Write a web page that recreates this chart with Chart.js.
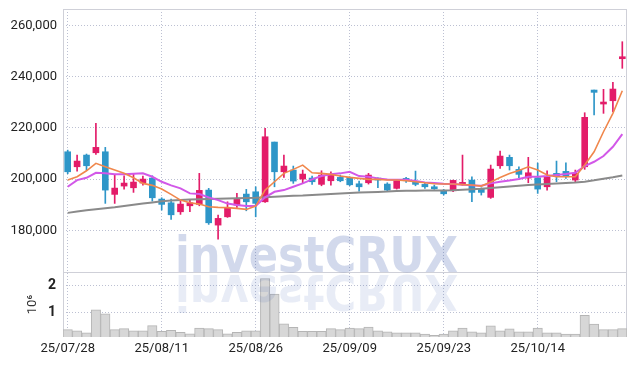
<!DOCTYPE html>
<html>
<head>
<meta charset="utf-8">
<script src="https://cdn.jsdelivr.net/npm/chart.js@4/dist/chart.umd.min.js"></script>
<style>
  html, body { margin: 0; padding: 0; background: #fff; }
  #wrap { width: 637px; height: 366px; }
</style>
</head>
<body>
<div id="wrap"><canvas id="stockChart" width="637" height="366"></canvas></div>
<script>
// daily candles, 25/07/28 .. 25/10/27
const dates = [
    '25/07/28','25/07/29','25/07/30','25/07/31','25/08/01','25/08/04','25/08/05','25/08/06','25/08/07','25/08/08',
    '25/08/11','25/08/12','25/08/13','25/08/14','25/08/18','25/08/19','25/08/20','25/08/21','25/08/22','25/08/25',
    '25/08/26','25/08/27','25/08/28','25/08/29','25/09/01','25/09/02','25/09/03','25/09/04','25/09/05','25/09/08',
    '25/09/09','25/09/10','25/09/11','25/09/12','25/09/15','25/09/16','25/09/17','25/09/18','25/09/19','25/09/22',
    '25/09/23','25/09/24','25/09/25','25/09/26','25/09/29','25/09/30','25/10/01','25/10/02','25/10/10','25/10/13',
    '25/10/14','25/10/15','25/10/16','25/10/17','25/10/20','25/10/21','25/10/22','25/10/23','25/10/24','25/10/27'
];
const shownDates = ['25/07/28', '25/08/11', '25/08/26', '25/09/09', '25/09/23', '25/10/14'];

const opens = [
    210660, 204800, 209370, 210270, 210660, 194020, 197270, 196600, 198440, 200390,
    192190, 190740, 187230, 189570, 190120, 195700, 182030, 185270, 189840, 194140,
    195040, 191130, 214450, 202850, 203520, 200000, 200390, 197930, 199340, 200660,
    200660, 198160, 198560, 200270, 198050, 196370, 200270, 198830, 197930, 196990,
    195590, 195430, 197930, 199610, 196090, 192850, 205200, 208480, 203780, 200390,
    200510, 196990, 202230, 203010, 199610, 204800, 234760, 229300, 230580, 246990
];
const highs = [
    211300, 209370, 209770, 221760, 212380, 201560, 201290, 201840, 201170, 201290,
    192700, 192190, 191400, 191800, 202230, 196370, 185940, 191130, 194410, 195980,
    196990, 219800, 214450, 209370, 205080, 203520, 201170, 203240, 202850, 201560,
    200900, 199220, 202230, 200510, 198560, 199610, 200660, 203120, 198560, 197660,
    195980, 199610, 209370, 200900, 196600, 205470, 210940, 209370, 204800, 208480,
    206250, 203240, 207030, 206370, 203520, 225900, 234760, 235040, 237770, 253630
];
const lows = [
    202070, 203120, 203500, 209650, 190510, 190500, 196090, 194800, 197660, 191400,
    187900, 184260, 186210, 187230, 189570, 182300, 176560, 185040, 188940, 187620,
    185270, 190900, 196990, 200660, 198320, 198560, 197930, 197380, 197660, 198950,
    197380, 195310, 198050, 196600, 195430, 196090, 198710, 197380, 196370, 195980,
    193750, 195040, 197540, 191130, 193750, 192460, 204180, 203520, 200510, 198560,
    194410, 195700, 198950, 200270, 198950, 203790, 225000, 225660, 226290, 243240
];
const closes = [
    202850, 207030, 205200, 212380, 195700, 196480, 198440, 198830, 200000, 192700,
    190120, 186050, 190230, 190740, 195590, 182930, 184650, 188940, 192070, 191130,
    190510, 216520, 202850, 205080, 199220, 201950, 198950, 201560, 201840, 199340,
    197770, 196990, 201560, 199610, 195700, 199340, 199340, 197930, 196990, 196210,
    194260, 199490, 198710, 194800, 194800, 203900, 208980, 205200, 201840, 202460,
    196090, 200900, 201290, 201290, 202230, 224100, 233860, 229800, 235150, 247650
];

// moving averages as drawn
const ma5 = [
    199610, 200900, 203240, 206130, 204800, 203520, 202230, 200510, 198320, 197540,
    196090, 194020, 191800, 190740, 190230, 189180, 188940, 188870, 188560, 188160,
    189450, 195700, 198950, 202230, 203790, 205470, 202460, 202230, 201840, 201170,
    200660, 200270, 199880, 199880, 199610, 199610, 199340, 198950, 198560, 198160,
    198050, 198050, 197850, 197660, 197270, 198830, 200590, 202150, 203320, 204800,
    203520, 201560, 200900, 200900, 200900, 205470, 210660, 218480, 225660, 234490
];
const ma10 = [
    196990, 199610, 200510, 202460, 202230, 201840, 201840, 202070, 202230, 200900,
    198950, 197540, 196370, 194410, 194140, 192850, 191800, 190430, 189840, 189450,
    189450, 192850, 195040, 195700, 196990, 198320, 199880, 201170, 201840, 202230,
    202850, 201170, 200900, 200270, 199880, 199730, 199730, 199220, 198710, 198440,
    198160, 198050, 197770, 197540, 197380, 198320, 198950, 199450, 200000, 200900,
    200900, 201170, 201560, 201950, 202460, 205080, 206760, 208980, 212620, 217580
];
const ma60 = [
    186800, 187300, 187800, 188200, 188600, 189000, 189500, 190000, 190500, 190900,
    191300, 191600, 191800, 192000, 192100, 192200, 192300, 192400, 192500, 192600,
    192700, 192900, 193100, 193300, 193500, 193600, 193800, 194000, 194200, 194400,
    194600, 194800, 194900, 195000, 195100, 195300, 195400, 195400, 195500, 195500,
    195500, 195600, 195800, 196000, 196200, 196500, 196800, 197100, 197400, 197700,
    197900, 198100, 198300, 198500, 198700, 199000, 199500, 200100, 200700, 201400
];

const volumes = [
    350000, 310000, 230000, 1080000, 940000, 350000, 390000, 310000, 310000, 500000,
    290000, 330000, 250000, 200000, 410000, 390000, 350000, 200000, 250000, 310000,
    310000, 2240000, 1670000, 570000, 440000, 290000, 290000, 290000, 390000, 350000,
    410000, 390000, 450000, 310000, 270000, 230000, 230000, 230000, 190000, 140000,
    190000, 310000, 410000, 270000, 230000, 490000, 310000, 380000, 270000, 270000,
    410000, 230000, 230000, 190000, 190000, 880000, 560000, 350000, 350000, 390000
];

const priceTicks = [180000, 200000, 220000, 240000, 260000];
const volTicks = [1000000, 2000000];

const UP = '#e31c69';
const DOWN = '#2e96c8';
const GRID = '#bcc0d2';
const tickFont = { family: 'Roboto', size: 13 };

const candleColors = closes.map((c, i) => c >= opens[i] ? UP : DOWN);

// y axes: fixed width, no extra padding for the edge labels
function fitY(s) {
    s.width = 63;
    s.paddingTop = 0;
    s.paddingBottom = 0;
}

// frame round both panels + separator line
const framePlugin = {
    id: 'frame',
    beforeDatasetsDraw(chart) {
        const { ctx, chartArea: a } = chart;
        const sep = Math.round(chart.scales.yv.top) + 0.5;
        ctx.save();
        ctx.strokeStyle = '#cfd0d8';
        ctx.lineWidth = 1;
        ctx.strokeRect(Math.round(a.left) + 0.5, Math.round(a.top) + 0.5, Math.round(a.width) - 1, Math.round(a.height) - 1);
        ctx.beginPath();
        ctx.moveTo(a.left, sep);
        ctx.lineTo(a.right, sep);
        ctx.stroke();
        ctx.restore();
    }
};

// investCRUX watermark with its mirror image
const watermarkPlugin = {
    id: 'watermark',
    afterDatasetsDraw(chart) {
        const ctx = chart.ctx;
        const text = 'investCRUX';
        const base = chart.scales.yv.top;
        ctx.save();
        ctx.font = 'bold 50px "DejaVu Sans"';
        const w = ctx.measureText(text).width;
        ctx.translate(175, base);
        ctx.scale(283 / w, 1);
        ctx.textBaseline = 'alphabetic';
        ctx.fillStyle = 'rgba(50, 80, 170, 0.22)';
        ctx.fillText(text, 0, 0);
        ctx.scale(1, -1);
        ctx.fillStyle = 'rgba(50, 80, 170, 0.11)';
        ctx.fillText(text, 0, -3);
        ctx.restore();
    }
};

const ctx = document.getElementById('stockChart').getContext('2d');
new Chart(ctx, {
    type: 'bar',
    data: {
        labels: dates,
        datasets: [
            { type: 'line', label: 'MA5', data: ma5, yAxisID: 'y', borderColor: '#f0874c', borderWidth: 1.6, pointRadius: 0, tension: 0, order: 1 },
            { type: 'line', label: 'MA10', data: ma10, yAxisID: 'y', borderColor: '#d258e8', borderWidth: 2, pointRadius: 0, tension: 0, order: 2 },
            { type: 'line', label: 'MA60', data: ma60, yAxisID: 'y', borderColor: '#8a8a8a', borderWidth: 2, pointRadius: 0, tension: 0, order: 3 },
            {
                label: 'body', data: opens.map((o, i) => [o, closes[i]]), yAxisID: 'y',
                backgroundColor: candleColors, barThickness: 6, minBarLength: 2, grouped: false, order: 4
            },
            {
                label: 'wick', data: lows.map((l, i) => [l, highs[i]]), yAxisID: 'y',
                backgroundColor: candleColors, barThickness: 1, grouped: false, order: 5
            },
            {
                label: 'volume', data: volumes, yAxisID: 'yv',
                backgroundColor: '#d7d7d7', borderColor: '#b5b5b5', borderWidth: 1,
                barPercentage: 1, categoryPercentage: 1, grouped: false, order: 6
            }
        ]
    },
    options: {
        responsive: false,
        animation: false,
        devicePixelRatio: 1,
        layout: { padding: { top: 9, right: 10, left: 0, bottom: 0 } },
        plugins: {
            legend: { display: false },
            tooltip: { enabled: false }
        },
        scales: {
            x: {
                type: 'category',
                offset: true,
                afterFit: s => { s.height = 29; s.paddingLeft = 0; s.paddingRight = 0; },
                grid: {
                    offset: false,
                    drawTicks: false,
                    color: c => shownDates.includes(dates[c.index]) ? GRID : 'rgba(0,0,0,0)'
                },
                border: { display: false, dash: [1, 2] },
                ticks: {
                    autoSkip: false,
                    maxRotation: 0,
                    padding: 4,
                    color: '#222',
                    font: tickFont,
                    callback: (v, i) => shownDates.includes(dates[i]) ? dates[i] : ''
                }
            },
            yv: {
                position: 'left',
                stack: 'stock',
                stackWeight: 1,
                min: 80000,
                max: 2480000,
                afterBuildTicks: s => { s.ticks = volTicks.map(v => ({ value: v })); },
                afterFit: fitY,
                grid: { color: GRID, drawTicks: false },
                border: { display: false, dash: [1, 2] },
                ticks: { padding: 7, color: '#222', font: { family: 'Roboto', size: 14, weight: 'bold' }, callback: v => v / 1000000 },
                title: { display: true, text: '10⁶', color: '#333', font: { family: 'Roboto', size: 13 }, padding: { top: 25, bottom: 0 } }
            },
            y: {
                position: 'left',
                stack: 'stock',
                stackWeight: 4.05,
                min: 163700,
                max: 266400,
                afterBuildTicks: s => { s.ticks = priceTicks.map(v => ({ value: v })); },
                afterFit: fitY,
                grid: { color: GRID, drawTicks: false },
                border: { display: false, dash: [1, 2] },
                ticks: { padding: 6, color: '#222', font: tickFont, callback: v => v.toLocaleString('en-US') }
            }
        }
    },
    plugins: [framePlugin, watermarkPlugin]
});
</script>
</body>
</html>
